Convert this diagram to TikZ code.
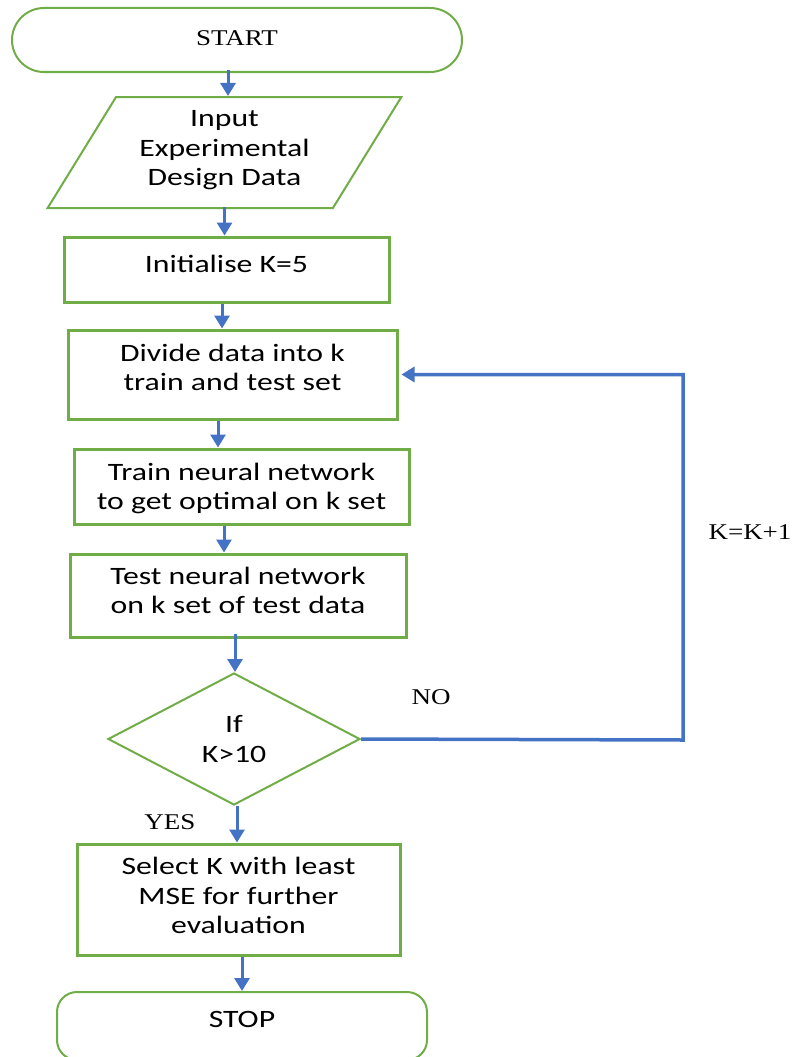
\documentclass[tikz,border=0pt]{standalone}
\usepackage{fontspec}
\setmainfont[FakeStretch=1.2]{Liberation Serif}
\newfontfamily\calfont[FakeStretch=1.27]{Carlito}
\usetikzlibrary{shapes.geometric,arrows.meta}
\definecolor{gr}{HTML}{70AD47}
\definecolor{bl}{HTML}{4472C4}
\begin{document}
\begin{tikzpicture}[x=1pt,y=-1pt,
  sans/.style={font=\calfont\fontsize{25}{29.5}\selectfont, text=black, align=center},
  serif/.style={font=\fontsize{22.5}{27}\selectfont, text=black},
  box/.style={draw=gr, line width=3pt, rectangle, sans, inner sep=0pt},
  thin/.style={draw=gr, line width=2pt, sans, inner sep=0pt},
  arr/.style={draw=bl, line width=3pt, -{Triangle[width=15pt,length=13pt]}},
]
\useasboundingbox (0,0) rectangle (795,1057);
\clip (0,0) rectangle (795,1057);

\node[thin, serif, rectangle, rounded corners=32pt, minimum width=450pt, minimum height=64pt, text depth=4pt] (start) at (237,40) {START};
\node[thin, trapezium, trapezium left angle=57.4, trapezium right angle=122.6, trapezium stretches=true, minimum width=355pt, minimum height=111pt, text depth=9pt] (input) at (224.5,152.5) {Input\\Experimental\\Design Data};
\node[box, minimum width=325pt, minimum height=65pt, text depth=12pt] (init) at (226.5,269.5) {Initialise K=5};
\node[box, minimum width=329pt, minimum height=89pt, text depth=14pt] (divide) at (232.5,374.5) {Divide data into k\\train and test set};
\node[box, minimum width=335pt, minimum height=75pt, text depth=0pt] (train) at (241.5,486.5) {Train neural network\\to get optimal on k set};
\node[box, minimum width=336pt, minimum height=83pt, text depth=10pt] (test) at (238,595.5) {Test neural network\\on k set of test data};
\node[thin, diamond, minimum width=252pt, minimum height=132pt] (dec) at (234,739) {If\\K>10};
\node[box, minimum width=323pt, minimum height=111pt, text depth=8pt] (select) at (238.5,899.5) {Select K with least\\MSE for further\\evaluation};
\node[thin, rectangle, rounded corners=20pt, minimum width=370pt, minimum height=68pt, text depth=14pt] (stop) at (242,1026) {STOP};

\node[serif] (no) at (431,697) {NO};
\node[serif] (yes) at (170,822) {YES};
\node[serif] (kk) at (750,532) {K=K+1};

\draw[arr] ([xshift=-9pt,yshift=3pt]start.south) -- ([xshift=-9pt]start.south |- input.north);
\draw[arr] ([yshift=2pt]input.south) -- (input.south |- init.north);
\draw[arr] ([xshift=-4.5pt]init.south) -- ([xshift=-4.5pt]init.south |- divide.north);
\draw[arr] ([xshift=-14.5pt]divide.south) -- ([xshift=-14.5pt]divide.south |- train.north);
\draw[arr] ([xshift=-17.5pt]train.south) -- ([xshift=-17.5pt]train.south |- test.north);
\draw[arr] ([xshift=-3pt,yshift=5pt]test.south) -- ([xshift=-3pt]test.south |- dec.north);
\draw[arr] ([xshift=3pt]dec.south) -- ([xshift=3pt]dec.south |- select.north);
\draw[arr] ([xshift=3.5pt]select.south) -- ([xshift=3.5pt]select.south |- stop.north);
\coordinate (loop) at (683,740);
\draw[arr, line width=3.5pt] (dec.east) -- (loop) |- ([xshift=3pt]divide.east);
\end{tikzpicture}
\end{document}
